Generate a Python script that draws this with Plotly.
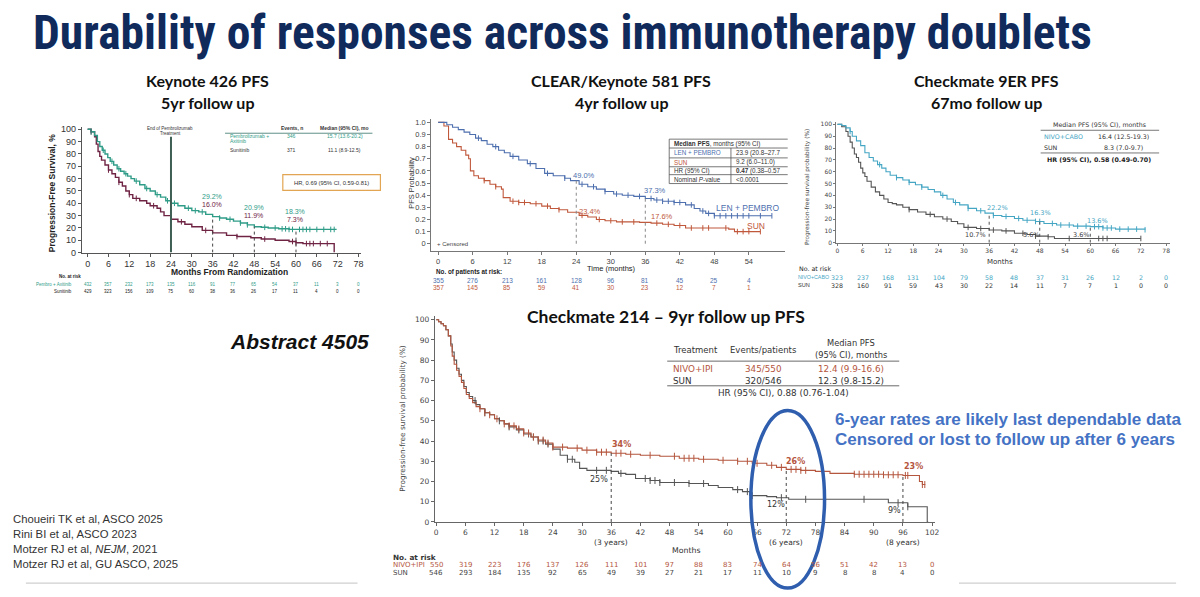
import plotly.graph_objects as go

W, H = 1200, 597

# ======================= DATA =======================
# ---- Keynote 426 (months, PFS %) ----
kn_ticks = [0, 6, 12, 18, 24, 30, 36, 42, 48, 54, 60, 66, 72, 78]
kn_pa_t = [0, 1, 2, 2.8, 3.5, 4.2, 5, 5.8, 6.5, 7.5, 8.5, 9.5, 10.5, 11.5, 12.5, 13.5, 15, 16.5, 18, 19.5,
           21, 22.5, 24, 26, 28, 30, 32, 34, 36, 38, 40, 42, 44, 46, 48, 50, 52, 55, 58, 71.5]
kn_pa_s = [100, 98, 95, 90, 86, 83, 80, 77, 74, 71, 68, 66, 64, 62, 60, 58, 55, 52, 50, 47,
           45, 42, 40, 38, 36, 34, 33, 31, 29.2, 28, 27, 25.5, 24, 22.5, 21, 20.5, 20, 19.3, 18.8, 18.3]
kn_su_t = [0, 1, 2, 2.5, 3, 3.5, 4, 5, 6, 7, 8, 9, 10, 11, 12, 13, 15, 17, 18, 20, 21, 22, 24, 26, 28,
           30, 33, 36, 40, 43, 47, 50, 54, 58, 60, 62, 71, 71]
kn_su_s = [100, 98, 94, 88, 82, 78, 75, 71, 67, 64, 61, 57, 54, 50, 47, 44, 42, 40, 38, 36, 33, 30, 27, 25, 23,
           21, 18, 16, 14, 13, 12, 11, 10, 9, 8, 7.3, 7.3, 0]
kn_pa_cens = [1, 4.5, 7, 9, 11, 14, 17, 20, 23, 25, 29, 31, 33, 38, 41, 44, 46, 51, 54, 56, 57, 58, 59,
              61, 62, 63, 64, 66, 68, 70, 71]
kn_su_cens = [1, 6, 9, 12, 14, 19, 24, 27, 34, 43, 51, 59, 60, 63, 64, 65, 67, 69]
kn_marks = [36, 48, 60]
kn_pa_pct = ["29.2%", "20.9%", "18.3%"]
kn_su_pct = ["16.0%", "11.9%", "7.3%"]
kn_risk_pa = [432, 357, 232, 173, 135, 116, 91, 77, 65, 54, 37, 11, 3, 0]
kn_risk_su = [429, 323, 156, 109, 75, 60, 38, 36, 26, 17, 11, 4, 0, 0]

# ---- CLEAR / Keynote 581 (months, probability) ----
cl_ticks = [0, 6, 12, 18, 24, 30, 36, 42, 48, 54]
cl_lp_t = [0, 1.5, 2.5, 3.5, 4.5, 5.5, 6.5, 7.5, 8.5, 9.5, 10.5, 11.5, 12.5, 14, 15.5, 17, 18.5, 20, 22,
           23, 24.5, 26, 27.5, 29, 30.5, 32, 34, 36, 37.5, 39, 41, 43, 44.5, 45.5, 46.5, 48, 58]
cl_lp_s = [1.0, 0.98, 0.96, 0.94, 0.92, 0.90, 0.87, 0.85, 0.82, 0.80, 0.77, 0.75, 0.72, 0.69, 0.66, 0.62,
           0.58, 0.56, 0.54, 0.52, 0.49, 0.47, 0.45, 0.43, 0.41, 0.40, 0.39, 0.373, 0.36, 0.35, 0.34, 0.32,
           0.29, 0.27, 0.25, 0.23, 0.23]
cl_su_t = [0, 1, 1.8, 2.5, 3.2, 4, 4.8, 5.3, 5.6, 6.2, 7, 8, 9, 10, 11, 11.3, 12.5, 14, 16, 18, 19.5, 21,
           22.5, 24.5, 26, 27.5, 29, 31, 35, 37, 39, 41, 43, 50.5, 51.5, 56]
cl_su_s = [1.0, 0.97, 0.86, 0.83, 0.80, 0.77, 0.73, 0.70, 0.60, 0.56, 0.54, 0.52, 0.49, 0.47, 0.45, 0.38,
           0.35, 0.34, 0.33, 0.31, 0.29, 0.28, 0.26, 0.234, 0.22, 0.20, 0.19, 0.18, 0.176, 0.17, 0.16,
           0.15, 0.13, 0.12, 0.10, 0.10]
cl_lp_cens = [7, 10, 13, 16, 19, 22, 25, 27, 29, 31, 33, 35, 37, 38, 39, 40, 41, 42, 44, 46, 47, 48, 49,
              50, 51, 52, 53, 54, 56, 58]
cl_su_cens = [8, 10, 13, 14, 15, 17, 19, 21, 25, 28, 30, 32, 34, 38, 40, 42, 44, 46, 47, 50, 52, 53, 54, 56]
cl_marks = [24, 36]
cl_risk_lp = [355, 276, 213, 161, 128, 96, 81, 45, 25, 4]
cl_risk_su = [357, 145, 85, 59, 41, 30, 23, 12, 7, 1]

# ---- Checkmate 9ER (months, PFS %) ----
cm9_ticks = [0, 6, 12, 18, 24, 30, 36, 42, 48, 54, 60, 66, 72, 78]
cm9_nc_t = [0, 1, 2, 3, 3.5, 4.5, 5.5, 6.5, 7.5, 8.5, 9.5, 10.5, 11.5, 12.5, 14, 15.5, 17, 18.5, 20, 21.5,
            23, 24.5, 26, 27.5, 29, 31, 33, 35, 37, 39, 42, 44, 47, 49, 52, 56, 60, 63, 66, 73]
cm9_nc_s = [100, 99, 97, 94, 90, 86, 82, 76, 72, 69, 66, 63, 60, 57, 55, 53, 51, 49, 47, 45,
            43, 40, 37, 34, 32, 29, 27, 25, 23, 22.2, 20.5, 19, 18, 16.3, 15, 14, 13.6, 12.5, 11.5, 11]
cm9_su_t = [0, 1, 2, 2.5, 3, 3.5, 4, 4.5, 5, 5.5, 6, 6.5, 7, 8, 9, 10, 11, 12, 13, 14, 15.5, 17, 19, 21,
            23, 25, 27, 28.5, 30, 33, 36, 39, 42, 45, 47, 50, 51.5, 72]
cm9_su_s = [100, 98, 94, 90, 85, 80, 75, 72, 68, 63, 59, 56, 52, 47, 43, 40, 37, 34, 33, 32, 30, 28, 26, 24,
            22, 20, 18, 16, 13, 12, 10.7, 10, 8, 7, 5.6, 5, 3.6, 3.6]
cm9_nc_cens = [3, 10, 14, 17, 20, 25, 28, 31, 34, 37, 40, 43, 45, 47, 48, 51, 53, 55, 57, 59, 61, 62, 63,
               64, 65, 67, 69, 71, 73]
cm9_su_cens = [17, 22, 26, 31, 34, 37, 40, 44, 47, 50, 55, 62, 63, 64, 72]
cm9_marks = [36, 48, 60]
cm9_nc_pct = ["22.2%", "16.3%", "13.6%"]
cm9_su_pct = ["10.7%", "5.6%", "3.6%"]
cm9_risk_nc = [323, 237, 168, 131, 104, 79, 58, 48, 37, 31, 26, 12, 2, 0]
cm9_risk_su = [328, 160, 91, 59, 43, 30, 22, 14, 11, 7, 7, 1, 0, 0]

# ---- Checkmate 214 (months, PFS %) ----
cm2_ticks = [0, 6, 12, 18, 24, 30, 36, 42, 48, 54, 60, 66, 72, 78, 84, 90, 96, 102]
cm2_ni_t = [0, 0.5, 1, 1.5, 2, 2.5, 3, 3.3, 3.7, 4.2, 4.7, 5.2, 5.7, 6.2, 6.8, 7.5, 8.2, 9, 10, 11, 12, 13,
            14, 15, 16.5, 18, 19.5, 21, 22.5, 24, 27, 30, 33, 36, 39, 42, 46, 50, 54, 58, 62, 65, 68, 70,
            72, 75, 78, 81, 86, 92, 96, 99.4, 100, 100.6]
cm2_ni_s = [100, 99, 98, 97, 95, 92, 87, 82, 78, 75, 72, 69, 66, 63, 61, 59, 57, 56, 54, 53, 51, 50,
            48.5, 47.5, 46, 44, 42, 40.5, 39, 37, 36.5, 35.5, 34.5, 34, 33.5, 33, 32.5, 31.5, 31, 30.5, 30,
            29, 28, 27, 26, 25.5, 25, 24, 23.6, 23.3, 23, 20, 18.5, 18.5]
cm2_su_t = [0, 0.5, 1, 1.5, 2, 2.5, 3, 3.3, 3.7, 4.2, 4.7, 5.2, 5.7, 6.2, 6.8, 7.5, 8.2, 9, 10, 11, 12, 13,
            14, 15, 16.5, 18, 19.5, 21, 22.5, 24, 25.5, 27, 28.5, 29.5, 31, 36, 37.5, 39, 41, 44, 46, 52,
            56, 58, 61, 63, 64.5, 68, 70, 72.5, 93, 97, 101, 101.2]
cm2_su_s = [100, 99, 98, 97, 95, 92, 88, 84, 80, 76, 73, 70, 67, 64, 62, 60, 58, 56, 54, 53, 51, 50,
            48.5, 47, 45.5, 43.5, 42, 40, 38.5, 36, 33, 31, 29.5, 26.5, 25.5, 25, 24, 23.5, 21.5, 20.5,
            19.5, 19, 18, 17, 16, 15, 13, 12.5, 12, 11.2, 9.5, 7.5, 0, 0]
cm2_ni_cens = [9, 10, 11, 12.5, 14, 15, 16, 17, 18, 19, 20, 21, 22, 23, 24, 26, 29, 31, 33, 34, 35, 37, 38,
               40, 44, 49, 51, 52, 53, 55, 59, 62, 64, 66, 69, 71, 73, 74, 75, 76, 86, 87, 88, 89, 90, 91,
               92, 93, 94, 95, 96.5, 97, 100, 100.5]
cm2_su_cens = [8, 10, 13, 15, 17, 19, 20, 21, 22, 23, 27, 28, 33, 35, 38, 43, 44, 45, 46, 49, 52, 55, 62,
               64, 65, 71, 76, 88, 95, 97]
cm2_marks = [36, 72, 96]
cm2_ni_pct = ["34%", "26%", "23%"]
cm2_su_pct = ["25%", "12%", "9%"]
cm2_years = ["(3 years)", "(6 years)", "(8 years)"]
cm2_risk_ni = [550, 319, 223, 176, 137, 126, 111, 101, 97, 88, 83, 74, 64, 56, 51, 42, 13, 0]
cm2_risk_su = [546, 293, 184, 135, 92, 65, 49, 39, 27, 21, 17, 11, 10, 9, 8, 8, 4, 0]

references = ["Choueiri TK et al, ASCO 2025", "Rini BI et al, ASCO 2023",
              "Motzer RJ et al, <i>NEJM</i>, 2021", "Motzer RJ et al, GU ASCO, 2025"]

# ======================= HELPERS =======================
ARIAL = "Liberation Sans, Arial, sans-serif"
VERD = "DejaVu Sans, Verdana, sans-serif"
CAL = "Lato, Carlito, Calibri, sans-serif"

C_KN_G, C_KN_M = "#2f9c88", "#6f2444"
C_CL_B, C_CL_R = "#4d6fae", "#c0583c"
C_9_T, C_9_G = "#45a6c4", "#555555"
C_2_R, C_2_G = "#b5563e", "#555555"


def stepval(ts, vs, t):
    v = vs[0]
    for a, b in zip(ts, vs):
        if a <= t:
            v = b
        else:
            break
    return v


def PX(x):
    return x / W


def PY(y):
    return 1 - y / H


def dom(pa, da, pb, db, rng, vertical):
    k = (pb - pa) / (db - da)
    q0 = pa + (rng[0] - da) * k
    q1 = pa + (rng[1] - da) * k
    if vertical:
        a, b = PY(q0), PY(q1)
    else:
        a, b = PX(q0), PX(q1)
    return [min(a, b), max(a, b)]


fig = go.Figure()
annotations = []
shapes = []


def txt(x, y, s, size, color="#333", family=ARIAL, xanchor="center", xref="paper", angle=0,
        weight="normal", yanchor="middle"):
    annotations.append(dict(
        x=PX(x) if xref == "paper" else x, y=PY(y), xref=xref, yref="paper", text=s, showarrow=False,
        xanchor=xanchor, yanchor=yanchor, textangle=angle,
        font=dict(size=size, color=color, family=family, weight=weight)))


def hline(x0, x1, y, color="#333", width=1):
    shapes.append(dict(type="line", xref="paper", yref="paper", x0=PX(x0), x1=PX(x1), y0=PY(y), y1=PY(y),
                       line=dict(color=color, width=width)))


def vline(x, y0, y1, color="#333", width=1):
    shapes.append(dict(type="line", xref="paper", yref="paper", x0=PX(x), x1=PX(x), y0=PY(y0), y1=PY(y1),
                       line=dict(color=color, width=width)))


def set_axes(n, xcal, xr, ycal, yr, xticks, yticks, ytext, tfont, lcolor, ticklen=3):
    sx = "" if n == 1 else str(n)
    fig.update_layout(**{
        "xaxis" + sx: dict(domain=dom(*xcal, xr, False), range=xr, anchor="y" + sx,
                           tickvals=xticks, ticktext=[str(v) for v in xticks], ticks="outside",
                           ticklen=ticklen, tickcolor=lcolor, showline=True, linecolor=lcolor, linewidth=1,
                           showgrid=False, zeroline=False, tickfont=tfont, fixedrange=True),
        "yaxis" + sx: dict(domain=dom(*ycal, yr, True), range=yr, anchor="x" + sx,
                           tickvals=yticks, ticktext=ytext, ticks="outside",
                           ticklen=ticklen, tickcolor=lcolor, showline=True, linecolor=lcolor, linewidth=1,
                           showgrid=False, zeroline=False, tickfont=tfont, fixedrange=True),
    })


def curve(t, s, color, n, width=1.2):
    sx = "" if n == 1 else str(n)
    fig.add_trace(go.Scatter(x=t, y=s, mode="lines", line=dict(color=color, width=width, shape="hv"),
                             xaxis="x" + sx, yaxis="y" + sx, showlegend=False, hoverinfo="skip"))


def censor(t, s, cens, color, n, size=5):
    sx = "" if n == 1 else str(n)
    fig.add_trace(go.Scatter(x=cens, y=[stepval(t, s, c) for c in cens], mode="markers",
                             marker=dict(symbol="line-ns", size=size, line=dict(color=color, width=1)),
                             xaxis="x" + sx, yaxis="y" + sx, showlegend=False, hoverinfo="skip",
                             cliponaxis=False))


def dashed(t, s, marks, n, color="#444", dash="dot", width=1):
    sx = "" if n == 1 else str(n)
    for m in marks:
        shapes.append(dict(type="line", xref="x" + sx, yref="y" + sx, x0=m, x1=m, y0=0,
                           y1=stepval(t, s, m), line=dict(color=color, width=width, dash=dash)))


# ======================= SLIDE TITLE =======================
txt(30, 0.5, "Durability of responses across immunotherapy doublets", 47.5, "#102a5c",
    "Liberation Sans Narrow, Arial Narrow, Roboto Condensed, sans-serif", xanchor="left", weight="bold",
    yanchor="top")

# ======================= PANEL 1: KEYNOTE 426 =======================
txt(207, 79, "Keynote 426 PFS", 16, "#111", CAL, weight="bold")
txt(207, 101, "5yr follow up", 16, "#111", CAL, weight="bold")
set_axes(1, (87, 0, 359, 78), [-1.7, 78.8], (253, 0, 128, 100), [0, 101.5], kn_ticks,
         list(range(0, 101, 10)), [str(v) for v in range(0, 101, 10)],
         dict(size=9, color="#333", family=ARIAL), "#555")
shapes.append(dict(type="line", xref="x", yref="y", x0=24, x1=24, y0=0, y1=94,
                   line=dict(color="#3f5f55", width=2)))
txt(170, 127, "End of Pembrolizumab", 4.5, "#333")
txt(170, 132, "Treatment", 4.5, "#333")
curve(kn_su_t, kn_su_s, C_KN_M, 1, 1.4)
curve(kn_pa_t, kn_pa_s, C_KN_G, 1, 1.4)
censor(kn_su_t, kn_su_s, kn_su_cens, C_KN_M, 1, 4)
censor(kn_pa_t, kn_pa_s, kn_pa_cens, C_KN_G, 1, 4)
dashed(kn_pa_t, kn_pa_s, kn_marks, 1, "#444", "dot", 1)
for xpx, a, b, ya in zip([212, 254, 295], kn_pa_pct, kn_su_pct, [196, 207, 211]):
    txt(xpx, ya, a, 7, C_KN_G)
    txt(xpx, ya + 8, b, 7, C_KN_M)
txt(52, 192, "Progression-Free Survival, %", 8.5, "#222", angle=-90, weight="bold")
txt(229, 273, "Months From Randomization", 8.5, "#222", weight="bold")
# table
txt(292, 127, "Events, n", 5, "#333", weight="bold")
txt(345, 127, "Median (95% CI), mo", 5, "#333", weight="bold")
hline(225, 373, 132, "#5f8f88", 1)
txt(228, 135, "Pembrolizumab +", 5, C_KN_G, xanchor="left")
txt(228, 139.5, "Axitinib", 5, C_KN_G, xanchor="left")
txt(292, 135, "346", 5, C_KN_G)
txt(345, 135, "15.7 (13.6-20.2)", 5, C_KN_G)
txt(228, 149, "Sunitinib", 5, "#333", xanchor="left")
txt(292, 149, "371", 5, "#333")
txt(345, 149, "11.1 (8.9-12.5)", 5, "#333")
shapes.append(dict(type="rect", xref="paper", yref="paper", x0=PX(283), x1=PX(381), y0=PY(174), y1=PY(190),
                   line=dict(color="#e2a552", width=1.2)))
txt(332, 182, "HR, 0.69 (95% CI, 0.59-0.81)", 5.8, "#333")
# at risk
txt(69, 277, "No. at risk", 4.5, "#222", weight="bold")
txt(73, 285, "Pembro + Axitinib", 4.5, C_KN_G, xanchor="right")
txt(73, 292, "Sunitinib", 4.5, "#222", xanchor="right")
for m, a, b in zip(kn_ticks, kn_risk_pa, kn_risk_su):
    txt(m, 285, str(a), 4.5, C_KN_G, xref="x")
    txt(m, 292, str(b), 4.5, "#222", xref="x")

# ======================= PANEL 2: CLEAR =======================
txt(623, 79, "CLEAR/Keynote 581 PFS", 16, "#111", CAL, weight="bold")
txt(623, 101, "4yr follow up", 16, "#111", CAL, weight="bold")
cl_y = [0, 0.1, 0.2, 0.3, 0.4, 0.5, 0.6, 0.7, 0.8, 0.9, 1.0]
set_axes(2, (439, 0, 751, 54), [-1.2, 60.2], (244, 0, 121, 1.0), [-0.057, 1.03], cl_ticks,
         cl_y, ["0"] + ["%.1f" % v for v in cl_y[1:]], dict(size=7.5, color="#444", family=ARIAL), "#777")
curve(cl_su_t, cl_su_s, C_CL_R, 2, 1.1)
curve(cl_lp_t, cl_lp_s, C_CL_B, 2, 1.1)
censor(cl_su_t, cl_su_s, cl_su_cens, C_CL_R, 2, 4)
censor(cl_lp_t, cl_lp_s, cl_lp_cens, C_CL_B, 2, 4)
dashed(cl_lp_t, cl_lp_s, cl_marks, 2, "#888", "dot", 1)
txt(585, 175, "49.0%", 7.5, C_CL_B)
txt(657, 190, "37.3%", 7.5, C_CL_B)
txt(591, 211, "23.4%", 7.5, C_CL_R)
txt(664, 216, "17.6%", 7.5, C_CL_R)
txt(750, 208, "LEN + PEMBRO", 8.5, C_CL_B)
txt(758, 226, "SUN", 8.5, C_CL_R)
txt(436, 244, "+ Censored", 6, "#444", xanchor="left")
txt(412, 182, "PFS Probability", 7.5, "#333", angle=-90)
txt(613, 269, "Time (months)", 7.5, "#222")
# table
for yy in [138, 147, 157, 166, 174, 183]:
    hline(671, 790, yy, "#555", 0.8)
vline(671, 138, 183, "#555", 0.8)
vline(733, 147, 183, "#555", 0.8)
txt(674, 142.5, "<b>Median PFS</b>, months (95% CI)", 6.3, "#333", xanchor="left")
txt(674, 152, "LEN + PEMBRO", 6.3, C_CL_B, xanchor="left")
txt(674, 161.5, "SUN", 6.3, C_CL_R, xanchor="left")
txt(674, 170, "HR (95% CI)", 6.3, "#333", xanchor="left")
txt(674, 178.5, "Nominal <i>P</i>-value", 6.3, "#333", xanchor="left")
txt(736, 152, "23.9 (20.8–27.7", 6.3, "#333", xanchor="left")
txt(736, 161.5, "9.2 (6.0–11.0)", 6.3, "#333", xanchor="left")
txt(736, 170, "<b>0.47</b> (0.38–0.57", 6.3, "#333", xanchor="left")
txt(736, 178.5, "<0.0001", 6.3, "#333", xanchor="left")
# at risk
txt(435, 273, "No. of patients at risk:", 6.3, "#222", xanchor="left", weight="bold")
for m, a, b in zip(cl_ticks, cl_risk_lp, cl_risk_su):
    txt(m, 281, str(a), 6.5, C_CL_B, xref="x2")
    txt(m, 288, str(b), 6.5, C_CL_R, xref="x2")

# ======================= PANEL 3: CHECKMATE 9ER =======================
txt(990, 79, "Checkmate 9ER PFS", 16, "#111", CAL, weight="bold")
txt(990, 101, "67mo follow up", 16, "#111", CAL, weight="bold")
set_axes(3, (840, 0, 1170, 78), [-0.3, 79], (243, 0, 123, 100), [0, 102], cm9_ticks,
         list(range(0, 101, 10)), [str(v) for v in range(0, 101, 10)],
         dict(size=6, color="#444", family=VERD), "#777", 2)
curve(cm9_su_t, cm9_su_s, C_9_G, 3, 1.1)
curve(cm9_nc_t, cm9_nc_s, C_9_T, 3, 1.1)
censor(cm9_su_t, cm9_su_s, cm9_su_cens, C_9_G, 3, 4)
censor(cm9_nc_t, cm9_nc_s, cm9_nc_cens, C_9_T, 3, 4)
dashed(cm9_nc_t, cm9_nc_s, cm9_marks, 3, "#555", "dot", 1)
for xpx, ypx, s in zip([1001, 1044, 1101], [208, 213, 221], cm9_nc_pct):
    txt(xpx, ypx, s, 6.5, C_9_T, VERD)
for xpx, s in zip([979, 1035, 1085], cm9_su_pct):
    txt(xpx, 235, s, 6.5, "#444", VERD)
txt(810, 187, "Progression-free survival probability (%)", 5.8, "#444", VERD, angle=-90)
txt(1003, 263, "Months", 7, "#333", VERD)
# table
txt(1103, 123, "Median PFS (95% CI), months", 6.3, "#333", VERD)
hline(1044, 1163, 129, "#555", 0.8)
txt(1045, 135, "NIVO+CABO", 6.3, C_9_T, VERD, xanchor="left")
txt(1127, 135, "16.4 (12.5-19.3)", 6.3, "#333", VERD)
txt(1045, 146, "SUN", 6.3, "#333", VERD, xanchor="left")
txt(1127, 146, "8.3 (7.0-9.7)", 6.3, "#333", VERD)
hline(1044, 1163, 152, "#555", 0.8)
txt(1103, 159, "HR (95% CI), 0.58 (0.49-0.70)", 6.3, "#222", VERD, weight="bold")
# at risk
txt(799, 269, "No. at risk", 6.3, "#222", VERD, xanchor="left")
txt(798, 278, "NIVO+CABO", 5.3, C_9_T, ARIAL, xanchor="left")
txt(798, 286, "SUN", 5.6, "#333", ARIAL, xanchor="left")
for m, a, b in zip(cm9_ticks, cm9_risk_nc, cm9_risk_su):
    txt(m, 278, str(a), 6.3, C_9_T, VERD, xref="x3")
    txt(m, 286, str(b), 6.3, "#333", VERD, xref="x3")

# ======================= PANEL 4: CHECKMATE 214 =======================
txt(668, 318, "Checkmate 214 – 9yr follow up PFS", 17.5, "#111", CAL, weight="bold")
set_axes(4, (437, 0, 935, 102), [-0.3, 102.6], (526, 0, 321, 100), [0, 102], cm2_ticks,
         list(range(0, 101, 10)), [str(v) for v in range(0, 101, 10)],
         dict(size=7.5, color="#444", family=VERD), "#666", 3)
curve(cm2_su_t, cm2_su_s, C_2_G, 4, 1.1)
curve(cm2_ni_t, cm2_ni_s, C_2_R, 4, 1.1)
censor(cm2_su_t, cm2_su_s, cm2_su_cens, C_2_G, 4, 5)
censor(cm2_ni_t, cm2_ni_s, cm2_ni_cens, C_2_R, 4, 5)
dashed(cm2_ni_t, cm2_ni_s, cm2_marks, 4, "#444", "dot", 1)
for m, s in zip(cm2_marks, cm2_years):
    txt(m, 547, s, 7.5, "#333", VERD, xref="x4")
for xpx, ypx, s in zip([623, 798, 916], [448, 465, 470], cm2_ni_pct):
    txt(xpx, ypx, s, 8, C_2_R, VERD, weight="bold")
for xpx, ypx, s in zip([601, 778, 897], [483, 508, 514], cm2_su_pct):
    txt(xpx, ypx, s, 8, "#333", VERD)
txt(403, 421, "Progression-free survival probability (%)", 7.3, "#444", VERD, angle=-90)
txt(688, 555, "Months", 7.8, "#333", VERD)
# table
txt(673, 352, "Treatment", 8.5, "#333", VERD, xanchor="left")
txt(766, 352, "Events/patients", 8.5, "#333", VERD)
txt(854, 345, "Median PFS", 8.3, "#333", VERD)
txt(854, 357, "(95% CI), months", 8.3, "#333", VERD)
hline(669, 902, 363, "#444", 0.8)
txt(673, 371, "NIVO+IPI", 8.8, C_2_R, VERD, xanchor="left")
txt(766, 371, "345/550", 8.8, C_2_R, VERD)
txt(854, 371, "12.4 (9.9-16.6)", 8.8, C_2_R, VERD)
txt(673, 383, "SUN", 8.8, "#333", VERD, xanchor="left")
txt(766, 383, "320/546", 8.8, "#333", VERD)
txt(854, 383, "12.3 (9.8-15.2)", 8.8, "#333", VERD)
hline(669, 902, 388, "#444", 0.8)
txt(786, 395, "HR (95% CI), 0.88 (0.76-1.04)", 8.8, "#333", VERD)
# at risk
txt(392, 562, "No. at risk", 7.3, "#333", VERD, xanchor="left", weight="bold")
txt(392, 570, "NIVO+IPI", 7, C_2_R, VERD, xanchor="left")
txt(392, 578, "SUN", 7, "#444", VERD, xanchor="left")
for m, a, b in zip(cm2_ticks, cm2_risk_ni, cm2_risk_su):
    txt(m, 570, str(a), 7, C_2_R, VERD, xref="x4")
    txt(m, 578, str(b), 7, "#444", VERD, xref="x4")

# blue callout
shapes.append(dict(type="circle", xref="paper", yref="paper", x0=PX(753), x1=PX(827), y0=PY(593), y1=PY(413),
                   line=dict(color="#2f5eae", width=3.5)))
txt(835, 422, "6-year rates are likely last dependable data", 17, "#4472c4", xanchor="left", weight="bold")
txt(835, 442, "Censored or lost to follow up after 6 years", 17, "#4472c4", xanchor="left", weight="bold")

# ======================= LEFT TEXT =======================
txt(300, 343, "<b><i>Abstract 4505</i></b>", 21, "#111")
for i, r in enumerate(references):
    txt(10, 523 + i * 15.3, r, 11.3, "#333", xanchor="left")
hline(25, 358, 588, "#cfcfcf", 1.2)
hline(962, 1180, 588, "#cfcfcf", 1.2)

fig.update_layout(width=W, height=H, margin=dict(l=0, r=0, t=0, b=0), paper_bgcolor="white",
                  plot_bgcolor="rgba(0,0,0,0)", showlegend=False, annotations=annotations, shapes=shapes)
fig.write_html("out.html", config={"displayModeBar": False})
